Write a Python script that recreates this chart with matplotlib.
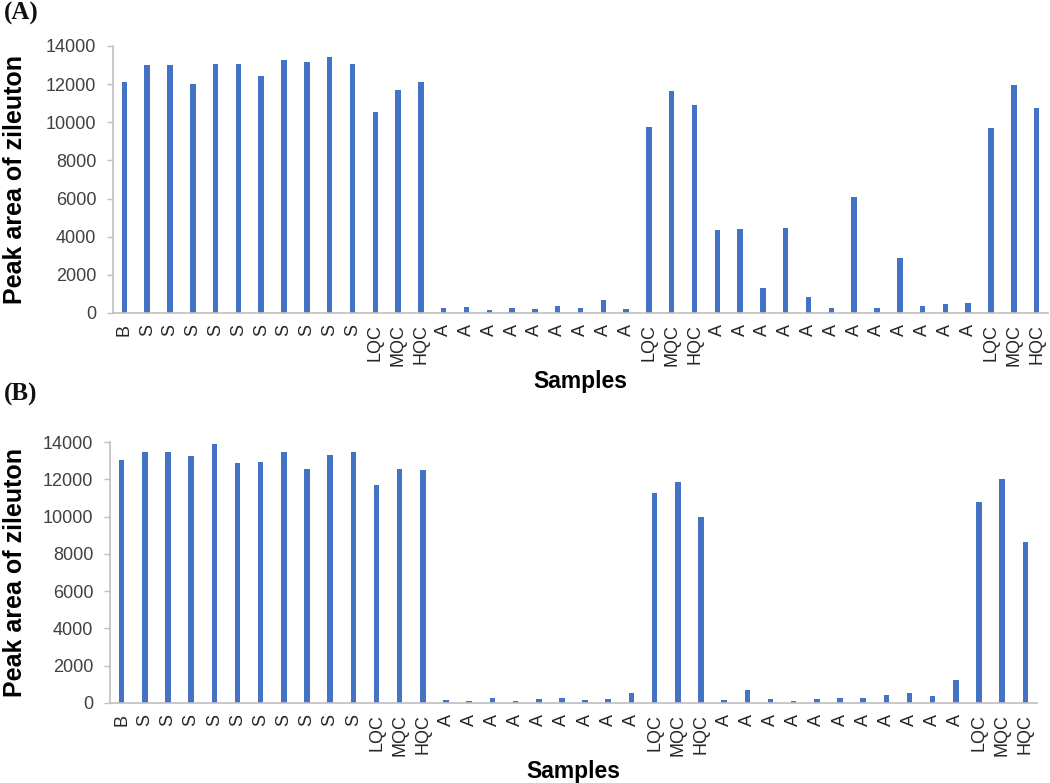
import matplotlib
matplotlib.use("Agg")
import matplotlib.pyplot as plt
import numpy as np

# sample labels, panel (A) and panel (B)
labels_a = ["B"] + ["S"] * 10 + ["LQC", "MQC", "HQC"] + ["A"] * 9 + ["LQC", "MQC", "HQC"] + ["A"] * 12 + ["LQC", "MQC", "HQC"]
labels_b = ["B"] + ["S"] * 10 + ["LQC", "MQC", "HQC"] + ["A"] * 9 + ["LQC", "MQC", "HQC"] + ["A"] * 11 + ["LQC", "MQC", "HQC"]

# peak areas
peak_a = [12100, 12990, 12990, 12020, 13060, 13060, 12420, 13240, 13170, 13440, 13060,
          10540, 11670, 12100,
          250, 320, 180, 250, 200, 380, 250, 680, 190,
          9770, 11650, 10900,
          4340, 4410, 1330, 4480, 820, 240, 6090, 240, 2900, 380, 450, 520,
          9700, 11970, 10770]
peak_b = [13050, 13490, 13440, 13240, 13890, 12870, 12940, 13440, 12540, 13320, 13490,
          11670, 12540, 12490,
          180, 110, 290, 120, 220, 290, 180, 230, 560,
          11270, 11860, 9960,
          180, 680, 230, 110, 230, 290, 290, 430, 540, 380, 1250,
          10770, 12040, 8640]

yticks = [0, 2000, 4000, 6000, 8000, 10000, 12000, 14000]
bar_color = "#4472C4"
axis_color = "#BFBFBF"

plt.rcParams["font.family"] = ["Liberation Sans", "DejaVu Sans"]

fig = plt.figure(figsize=(10.5, 7.83), dpi=100)


def draw_panel(rect, labels, values, tag, tag_y, ylab_x, xlab_y):
    ax = fig.add_axes(rect)
    x = np.arange(len(values))
    ax.bar(x, values, width=0.24, color=bar_color)
    ax.set_xlim(-0.5, len(values) - 0.5)
    ax.set_ylim(0, 14000)
    ax.set_yticks(yticks)
    ax.set_yticklabels([str(t) for t in yticks], fontsize=13, color="#404040")
    ax.set_xticks(x)
    ax.set_xticklabels(labels, rotation=90, fontsize=13, color="#262626")
    ax.tick_params(axis="x", length=0, pad=8)
    ax.tick_params(axis="y", length=4, width=1, color=axis_color, pad=8)
    for s in ["top", "right"]:
        ax.spines[s].set_visible(False)
    for s in ["bottom", "left"]:
        ax.spines[s].set_color(axis_color)
        ax.spines[s].set_linewidth(1.2)
    ax.set_ylabel("Peak area of zileuton", fontsize=18, fontweight="bold")
    ax.yaxis.set_label_coords(ylab_x, 0.5)
    ax.set_xlabel("Samples", fontsize=16.5, fontweight="bold")
    ax.xaxis.set_label_coords(0.5, xlab_y)
    fig.text(0.004, tag_y, tag, fontsize=18, fontweight="bold",
             family="Liberation Serif", color="#111111", va="top")
    return ax


draw_panel([113 / 1050, 0.6003, 935 / 1050, 0.341], labels_a, peak_a, "(A)", 0.9975, -0.092, -0.215)
draw_panel([110 / 1050, 0.1022, 927 / 1050, 0.3333], labels_b, peak_b, "(B)", 0.511, -0.089, -0.22)

fig.savefig("out.png", dpi=100)
